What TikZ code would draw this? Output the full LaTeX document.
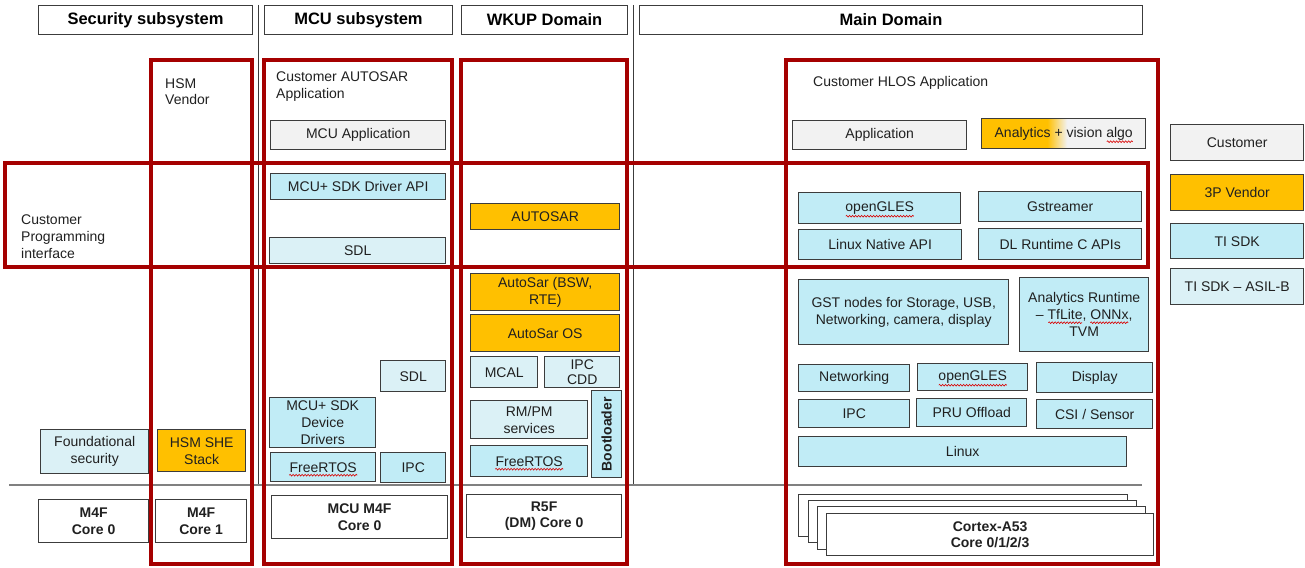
\documentclass[tikz,border=0pt]{standalone}
\usepackage{fontspec}
\setmainfont{Liberation Sans}
\usetikzlibrary{positioning}
\usetikzlibrary{calc}
\usetikzlibrary{decorations.pathmorphing}

\definecolor{darkred}{RGB}{165,0,0}
\definecolor{edge}{RGB}{60,60,60}
\definecolor{ink}{RGB}{32,32,32}
\definecolor{custgray}{RGB}{242,242,242}
\definecolor{orng}{RGB}{255,192,0}
\definecolor{tisdk}{RGB}{193,236,246}
\definecolor{asil}{RGB}{219,241,246}

\pgfdeclarehorizontalshading{anafade}{100bp}{color(0bp)=(orng); color(45bp)=(orng); color(51bp)=(custgray); color(100bp)=(custgray)}

\tikzset{
  box/.style={draw=edge, line width=1.4pt, anchor=north west, align=center, inner sep=1pt, text=ink},
  custbox/.style={box, fill=custgray},
  vendbox/.style={box, fill=orng},
  sdkbox/.style={box, fill=tisdk},
  asilbox/.style={box, fill=asil},
  anabox/.style={box, shading=anafade},
  corebox/.style={box, fill=white, line width=1.2pt, font=\fontsize{14}{16.5}\selectfont\bfseries},
  headbox/.style={draw=edge, line width=1pt, anchor=north west, fill=white, font=\fontsize{16.5}{19}\selectfont\bfseries},
  redbox/.style={draw=darkred, line width=3.2pt},
  sepline/.style={draw=edge, line width=0.9pt},
  plain/.style={anchor=base west, align=left, inner sep=0pt, text=ink},
  spellwave/.style={draw=red!85!black, line width=0.6pt, decorate, decoration={snake, amplitude=0.9pt, segment length=3pt}}
}

\begin{document}
\begin{tikzpicture}[x=1pt, y=-1pt, font=\fontsize{14}{17}\selectfont]
\useasboundingbox (0,0) rectangle (1305,567);

\draw[sepline] (258,5) -- (258,485);
\draw[sepline] (633,5) -- (633,485);
\draw[sepline, draw=gray, line width=1.4pt] (9,485) -- (1142,485);

\node[headbox, minimum width=214, minimum height=29] (hsec) at (38,5) {Security subsystem};
\node[headbox, minimum width=188, minimum height=29] (hmcu) at (264,5) {MCU subsystem};
\node[headbox, minimum width=166, minimum height=29] (hwkup) at (461,5) {WKUP Domain};
\node[headbox, minimum width=503, minimum height=29] (hmain) at (639,5) {Main Domain};

\node[plain] (hsmv) at (165,105) {HSM\\Vendor};
\node[plain] (custauto) at (276,99) {Customer AUTOSAR\\Application};
\node[plain] (custhlos) at (813,87) {Customer HLOS Application};
\node[plain] (cpi) at (21,258) {Customer\\Programming\\interface};

\node[asilbox, minimum width=108, minimum height=44] (fsec) at (40,429) {Foundational\\security};
\node[vendbox, minimum width=88, minimum height=42] (hshe) at (157,429) {HSM SHE\\Stack};
\node[corebox, minimum width=110, minimum height=43] (m4f0) at (38,499) {M4F\\Core 0};
\node[corebox, minimum width=91, minimum height=43] (m4f1) at (155,499) {M4F\\Core 1};

\node[custbox, minimum width=175, minimum height=29] (mapp) at (270,120) {MCU Application};
\node[sdkbox, minimum width=175, minimum height=26] (mdrv) at (270,173) {MCU+ SDK Driver API};
\node[asilbox, minimum width=176, minimum height=26] (msdl) at (269,237) {SDL};
\node[asilbox, minimum width=65, minimum height=31] (msdlb) at (380,360) {SDL};
\node[sdkbox, minimum width=106, minimum height=50] (mdd) at (269,397) {MCU+ SDK\\Device\\Drivers};
\node[sdkbox, minimum width=105, minimum height=29] (mrtos) at (270,452) {FreeRTOS};
\node[sdkbox, minimum width=65, minimum height=30] (mipc) at (380,452) {IPC};
\node[corebox, minimum width=176, minimum height=43] (mcore) at (271,495) {MCU M4F\\Core 0};

\node[vendbox, minimum width=149, minimum height=26] (wauto) at (470,203) {AUTOSAR};
\node[vendbox, minimum width=149, minimum height=37] (wbsw) at (470,273) {AutoSar (BSW,\\RTE)};
\node[vendbox, minimum width=149, minimum height=37] (wos) at (470,314) {AutoSar OS};
\node[asilbox, minimum width=67, minimum height=31] (wmcal) at (470,356) {MCAL};
\node[asilbox, minimum width=75, minimum height=31, font=\fontsize{14}{14.5}\selectfont] (wcdd) at (544,356) {IPC\\CDD};
\node[asilbox, minimum width=117, minimum height=38] (wrm) at (470,400) {RM/PM\\services};
\node[sdkbox, minimum width=117, minimum height=31] (wrtos) at (470,445) {FreeRTOS};
\node[sdkbox, minimum width=30, minimum height=87] (wboot) at (591,390) {};
\node[rotate=90, font=\fontsize{14}{16.5}\selectfont\bfseries, text=ink] (wboottxt) at (wboot.center) {Bootloader};
\node[corebox, minimum width=155, minimum height=43] (wcore) at (466,494) {R5F\\(DM) Core 0};

\node[custbox, minimum width=174, minimum height=29] (happ) at (792,120) {Application};
\node[anabox, minimum width=164, minimum height=30] (hana) at (981,118) {Analytics + vision algo};
\node[sdkbox, minimum width=162, minimum height=31] (gles) at (798,192) {openGLES};
\node[sdkbox, minimum width=163, minimum height=30] (gst) at (978,191) {Gstreamer};
\node[sdkbox, minimum width=163, minimum height=30] (lnapi) at (798,229) {Linux Native API};
\node[sdkbox, minimum width=163, minimum height=31] (dlrt) at (978,228) {DL Runtime C APIs};
\node[sdkbox, minimum width=210, minimum height=65] (gstn) at (798,279) {GST nodes for Storage, USB,\\Networking, camera, display};
\node[sdkbox, minimum width=129, minimum height=74] (anrt) at (1019,277) {Analytics Runtime\\-- TfLite, ONNx,\\TVM};
\node[sdkbox, minimum width=111, minimum height=27] (net) at (798,364) {Networking};
\node[sdkbox, minimum width=110, minimum height=27] (glesb) at (917,363) {openGLES};
\node[sdkbox, minimum width=116, minimum height=30] (disp) at (1036,362) {Display};
\node[sdkbox, minimum width=111, minimum height=28] (ipc) at (798,399) {IPC};
\node[sdkbox, minimum width=110, minimum height=28] (pru) at (916,398) {PRU Offload};
\node[sdkbox, minimum width=116, minimum height=29] (csi) at (1036,399) {CSI / Sensor};
\node[sdkbox, minimum width=328, minimum height=30] (linux) at (798,436) {Linux};

\node[corebox, minimum width=329, minimum height=42] (a53c) at (798,494) {};
\node[corebox, minimum width=328, minimum height=42] (a53b) at (808,500) {};
\node[corebox, minimum width=328, minimum height=43] (a53a) at (817,506) {};
\node[corebox, minimum width=327, minimum height=42] (a53) at (826,513) {Cortex-A53\\Core 0/1/2/3};

\node[custbox, minimum width=133, minimum height=36] (lgcust) at (1170,124) {Customer};
\node[vendbox, minimum width=133, minimum height=36] (lgvend) at (1170,174) {3P Vendor};
\node[sdkbox, minimum width=133, minimum height=35] (lgsdk) at (1170,223) {TI SDK};
\node[asilbox, minimum width=133, minimum height=36] (lgasil) at (1170,268) {TI SDK -- ASIL-B};

\draw[spellwave] ($(mrtos.center)+(-34,8)$) -- ($(mrtos.center)+(34,8)$);
\draw[spellwave] ($(wrtos.center)+(-34,8)$) -- ($(wrtos.center)+(34,8)$);
\draw[spellwave] ($(gles.center)+(-34,8)$) -- ($(gles.center)+(34,8)$);
\draw[spellwave] ($(glesb.center)+(-34,8)$) -- ($(glesb.center)+(34,8)$);
\draw[spellwave] ($(hana.center)+(43,8)$) -- ($(hana.center)+(69,8)$);
\draw[spellwave] ($(anrt.center)+(-36,8)$) -- ($(anrt.center)+(-2,8)$);
\draw[spellwave] ($(anrt.center)+(6,8)$) -- ($(anrt.center)+(44,8)$);

\draw[redbox] (151,60) rectangle (252,564);
\draw[redbox] (264,60) rectangle (452,564);
\draw[redbox] (461,60) rectangle (627,564);
\draw[redbox] (786,60) rectangle (1158,564);
\draw[redbox] (5,163) rectangle (1148,267);
\end{tikzpicture}
\end{document}
